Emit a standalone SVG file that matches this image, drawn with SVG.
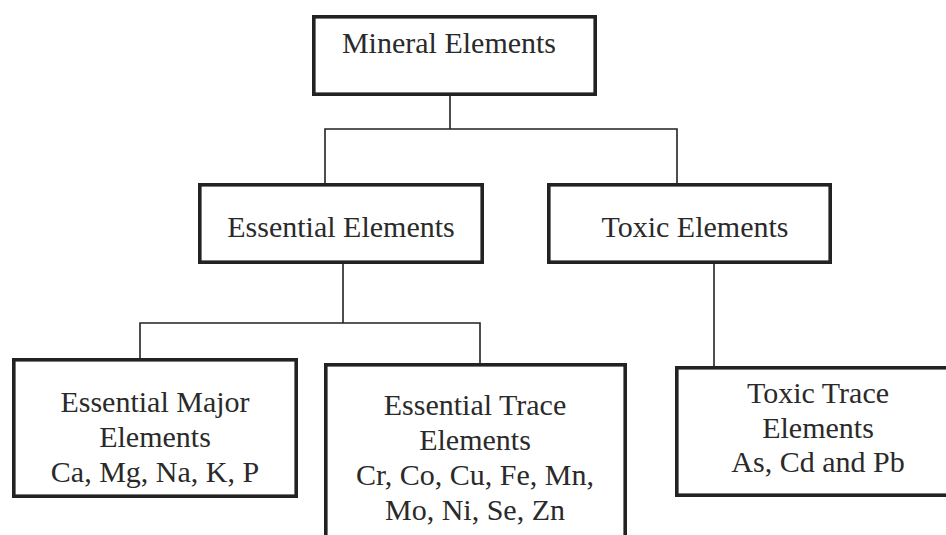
<svg xmlns="http://www.w3.org/2000/svg" width="946" height="535" viewBox="0 0 946 535">
<style>
.box{fill:#fff;stroke:#222;stroke-width:3.6}
.c{fill:none;stroke:#222;stroke-width:1.6}
text{font-family:"Liberation Serif","Times New Roman",serif;font-size:30px;fill:#2a2a2a;text-anchor:middle}
</style>
<rect width="946" height="535" fill="#fff"/>
<g id="connectors">
<path class="c" d="M450,96V129M325,183V129H677V183"/>
<path class="c" d="M343,264V323M140,358V323H480V363"/>
<path class="c" d="M714,264V366"/>
</g>
<g id="mineral">
<rect class="box" x="313.8" y="16.8" width="281.4" height="77.4"/>
<text x="449" y="53">Mineral Elements</text>
</g>
<g id="essential">
<rect class="box" x="199.8" y="184.8" width="282.4" height="77.4"/>
<text x="341" y="237">Essential Elements</text>
</g>
<g id="toxic">
<rect class="box" x="548.8" y="184.8" width="281.4" height="77.4"/>
<text x="695" y="237">Toxic Elements</text>
</g>
<g id="essential-major">
<rect class="box" x="13.8" y="359.8" width="282.4" height="136.4"/>
<text x="155" y="412">Essential Major</text>
<text x="155" y="447">Elements</text>
<text x="155" y="482">Ca, Mg, Na, K, P</text>
</g>
<g id="essential-trace">
<rect class="box" x="325.8" y="364.8" width="299.4" height="190"/>
<text x="475" y="415">Essential Trace</text>
<text x="475" y="450">Elements</text>
<text x="475" y="485">Cr, Co, Cu, Fe, Mn,</text>
<text x="475" y="520">Mo, Ni, Se, Zn</text>
</g>
<g id="toxic-trace">
<rect class="box" x="676.8" y="367.8" width="290" height="127.4"/>
<text x="818" y="403">Toxic Trace</text>
<text x="818" y="438">Elements</text>
<text x="818" y="472">As, Cd and Pb</text>
</g>
</svg>
